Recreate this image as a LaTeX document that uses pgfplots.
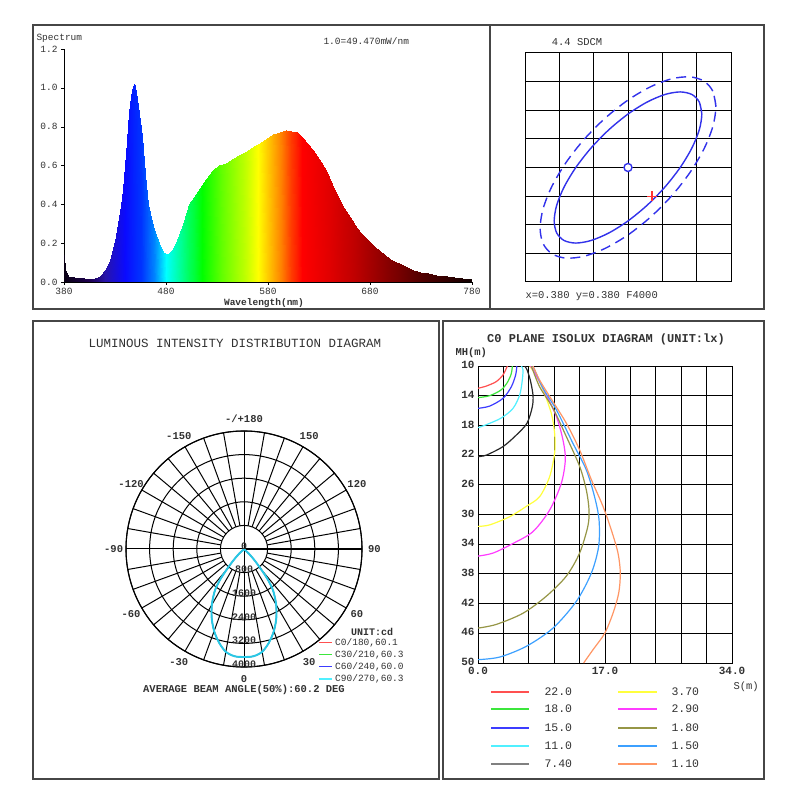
\documentclass[border=0pt]{standalone}
\usepackage{pgfplots}
\pgfplotsset{compat=1.18}
\usepgfplotslibrary{polar}
\usepackage{fontspec}
\setmainfont{Liberation Mono}
\definecolor{frame}{RGB}{70,70,70}
\definecolor{txt}{RGB}{50,50,50}
\definecolor{ired}{RGB}{255,80,80}
\definecolor{igreen}{RGB}{60,230,60}
\definecolor{iblue}{RGB}{60,60,255}
\definecolor{icyan}{RGB}{80,240,255}
\definecolor{iblack}{RGB}{40,40,40}
\definecolor{igray}{RGB}{128,128,128}
\definecolor{iyellow}{RGB}{255,255,60}
\definecolor{imag}{RGB}{255,60,255}
\definecolor{iolive}{RGB}{150,150,70}
\definecolor{ilblue}{RGB}{60,160,255}
\definecolor{iorange}{RGB}{255,150,100}
\definecolor{sdcm}{RGB}{50,50,235}
\definecolor{pcyan}{RGB}{40,200,230}
\pgfplotsset{colormap={wl}{[1pt]
rgb255(380pt)=(10,0,20) rgb255(405pt)=(30,0,80) rgb255(420pt)=(40,20,170)
rgb255(440pt)=(10,10,255) rgb255(455pt)=(0,50,255) rgb255(468pt)=(0,130,255)
rgb255(480pt)=(0,255,255) rgb255(492pt)=(0,255,170) rgb255(503pt)=(0,255,90)
rgb255(515pt)=(0,255,0) rgb255(535pt)=(100,255,0) rgb255(555pt)=(180,255,0)
rgb255(570pt)=(255,255,0) rgb255(582pt)=(255,190,0) rgb255(593pt)=(255,130,0)
rgb255(603pt)=(255,60,0) rgb255(613pt)=(255,0,0) rgb255(640pt)=(225,0,0)
rgb255(665pt)=(190,0,0) rgb255(695pt)=(140,0,0) rgb255(725pt)=(90,0,0)
rgb255(755pt)=(50,0,0) rgb255(780pt)=(15,0,0)}}
\pgfplotstableread{
phi r
222 0
224 250
226 420
228 640
230 920
232 1300
235 1720
240 2180
245 2590
250 2960
255 3280
260 3540
265 3650
270 3660
275 3650
280 3540
285 3280
290 2960
295 2590
300 2180
305 1720
308 1300
310 920
312 640
314 420
316 250
318 0
}\polardata
\begin{document}
\begin{tikzpicture}
\fill[white] (0pt,0pt) rectangle (800pt,800pt);
\draw[frame, line width=1.4pt] (33pt,491pt) rectangle (764pt,775pt);
\draw[frame, line width=1.4pt] (490pt,491pt) -- (490pt,775pt);
\draw[frame, line width=1.4pt] (33pt,21pt) rectangle (439pt,479pt);
\draw[frame, line width=1.4pt] (443pt,21pt) rectangle (764pt,479pt);

% ---------------- Spectrum ----------------
\begin{axis}[at={(64pt,518pt)}, anchor=south west, scale only axis,
  width=408pt, height=233pt,
  xmin=380, xmax=780, ymin=0, ymax=1.2,
  axis x line*=bottom, axis y line*=left,
  axis line style={black, line width=0.9pt},
  xtick={380,480,580,680,780}, ytick={0,0.2,0.4,0.6,0.8,1.0,1.2},
  tick align=outside, major tick length=3pt, tick style={black},
  /pgf/number format/assume math mode=true,
  yticklabel style={/pgf/number format/.cd, fixed, fixed zerofill, precision=1},
  xticklabel style={/pgf/number format/.cd, 1000 sep={}},
  tick label style={font=\fontsize{9.5}{10}\selectfont, text=txt},
  colormap name=wl, point meta min=380, point meta max=780]
\addplot[surf, shader=interp, mesh/rows=2, point meta=x] coordinates {
(380,0) (381,0) (384,0) (390,0) (395,0) (400,0) (405,0) (410,0) (415,0) (420,0)
(425,0) (431,0) (436,0) (438,0) (441,0) (444,0) (446,0) (448,0) (449,0) (450,0)
(453,0) (456,0) (458,0) (460,0) (462,0) (465,0) (467,0) (470,0) (473,0) (477,0)
(480,0) (483,0) (486,0) (490,0) (494,0) (497,0) (500,0) (503,0) (507,0) (513,0)
(519,0) (526,0) (532,0) (539,0) (545,0) (552,0) (559,0) (566,0) (572,0) (579,0)
(585,0) (592,0) (598,0) (603,0) (608,0) (613,0) (618,0) (624,0) (630,0) (635,0)
(640,0) (645,0) (650,0) (655,0) (660,0) (665,0) (670,0) (675,0) (680,0) (685,0)
(690,0) (695,0) (700,0) (705,0) (710,0) (716,0) (722,0) (729,0) (737,0) (745,0)
(755,0) (762,0) (770,0) (780,0)
(380,0.14) (381,0.06) (384,0.03) (390,0.025) (395,0.02) (400,0.022) (405,0.018) (410,0.02) (415,0.03) (420,0.06)
(425,0.115) (431,0.235) (436,0.39) (438,0.48) (441,0.66) (444,0.87) (446,0.96) (448,1.01) (449,1.02) (450,1.01)
(453,0.905) (456,0.75) (458,0.62) (460,0.50) (462,0.40) (465,0.33) (467,0.29) (470,0.24) (473,0.20) (477,0.155)
(480,0.145) (483,0.148) (486,0.165) (490,0.20) (494,0.255) (497,0.30) (500,0.35) (503,0.40) (507,0.44) (513,0.485)
(519,0.53) (526,0.575) (532,0.60) (539,0.615) (545,0.635) (552,0.655) (559,0.675) (566,0.70) (572,0.715) (579,0.74)
(585,0.76) (592,0.775) (598,0.785) (603,0.78) (608,0.77) (613,0.745) (618,0.715) (624,0.68) (630,0.635) (635,0.59)
(640,0.54) (645,0.48) (650,0.43) (655,0.38) (660,0.335) (665,0.295) (670,0.26) (675,0.23) (680,0.205) (685,0.18)
(690,0.16) (695,0.14) (700,0.12) (705,0.105) (710,0.092) (716,0.075) (722,0.062) (729,0.052) (737,0.044) (745,0.038)
(755,0.031) (762,0.027) (770,0.022) (780,0.017)
};
\end{axis}
\node[anchor=west, font=\fontsize{9.5}{10}\selectfont, text=txt] at (33pt,762pt) {Spectrum};
\node[anchor=west, font=\fontsize{9.5}{10}\selectfont, text=txt] at (320pt,759pt) {1.0=49.470mW/nm};
\node[font=\bfseries\fontsize{9.5}{10}\selectfont, text=txt] at (264pt,497pt) {Wavelength(nm)};

% ---------------- SDCM ----------------
\begin{axis}[at={(525pt,518pt)}, anchor=south west, scale only axis,
  width=206pt, height=229pt,
  xmin=0, xmax=6, ymin=0, ymax=8, xtick={0,...,6}, ytick={0,...,8},
  grid=major, major grid style={black, line width=1pt},
  xticklabels={}, yticklabels={}, major tick length=0pt,
  axis line style={black, line width=1pt}, clip=false]
\addplot[sdcm, line width=1.4pt, dash pattern=on 10pt off 6pt, smooth] coordinates {
(5.560,6.121) (5.473,6.659) (5.217,7.015) (4.810,7.166) (4.280,7.101) (3.663,6.824)
(3.000,6.356) (2.337,5.726) (1.720,4.980) (1.190,4.166) (0.783,3.341) (0.527,2.561)
(0.440,1.879) (0.527,1.341) (0.783,0.985) (1.190,0.834) (1.720,0.899) (2.337,1.176)
(3.000,1.644) (3.663,2.274) (4.280,3.020) (4.810,3.834) (5.217,4.659) (5.473,5.439)
(5.560,6.121) (5.473,6.659)};
\addplot[sdcm, line width=1.4pt, smooth] coordinates {
(5.150,5.867) (5.077,6.286) (4.862,6.550) (4.520,6.640) (4.075,6.550) (3.556,6.286)
(3.000,5.867) (2.444,5.320) (1.925,4.683) (1.480,4.000) (1.138,3.317) (0.923,2.680)
(0.850,2.133) (0.923,1.714) (1.138,1.450) (1.480,1.360) (1.925,1.450) (2.444,1.714)
(3.000,2.133) (3.556,2.680) (4.075,3.317) (4.520,4.000) (4.862,4.683) (5.077,5.320)
(5.150,5.867) (5.077,6.286)};
\addplot[only marks, mark=*, mark size=4pt, mark options={draw=sdcm, fill=white, line width=1.4pt}] coordinates {(3,4)};
\addplot[only marks, mark=+, mark size=5pt, mark options={draw=red!80, line width=1.1pt}] coordinates {(3.7,3.0)};
\end{axis}
\node[font=\fontsize{10.5}{11}\selectfont, text=txt] at (577pt,758pt) {4.4 SDCM};
\node[anchor=west, font=\fontsize{10.5}{11}\selectfont, text=txt] at (522pt,504pt) {x=0.380 y=0.380 F4000};

% ---------------- Polar ----------------
\node[font=\fontsize{12.5}{13}\selectfont, text=txt] at (235pt,457pt) {LUMINOUS INTENSITY DISTRIBUTION DIAGRAM};
\begin{polaraxis}[at={(244pt,251pt)}, anchor=center, scale only axis,
  width=236pt, height=236pt, xmin=0, xmax=360, ymin=0, ymax=4000,
  xtick=\empty, ytick={800,1600,2400,3200,4000}, yticklabels={},
  ymajorgrids, major grid style={black, line width=1pt}, major tick length=0pt,
  axis line style={black, line width=1.1pt}, clip=false]
\pgfplotsinvokeforeach{10,20,30,40,50,60,70,80,100,110,120,130,140,150,160,170,190,200,210,220,230,240,250,260,280,290,300,310,320,330,340,350}{\draw[black, line width=1pt] (axis cs:#1,800) -- (axis cs:#1,4000);}
\draw[black, line width=1pt] (axis cs:0,4000) -- (axis cs:180,4000);
\draw[black, line width=1pt] (axis cs:90,4000) -- (axis cs:270,4000);
\addplot[ired, line width=1pt, smooth] table[x=phi, y=r] {\polardata};
\addplot[igreen, line width=1pt, smooth] table[x=phi, y=r] {\polardata};
\addplot[iblue, line width=1pt, smooth] table[x=phi, y=r] {\polardata};
\addplot[pcyan, line width=1.9pt, smooth] table[x=phi, y=r] {\polardata};
\foreach \a/\l in {270/0,300/30,330/60,0/90,30/120,60/150,90/{-/+180},120/-150,150/-120,180/-90,210/-60,240/-30}{
  \edef\temp{\noexpand\node[font=\noexpand\bfseries\noexpand\fontsize{10.5}{11}\noexpand\selectfont, text=txt] at (axis cs:\a,4420) {\l};}\temp}
\foreach \r/\l in {0/0,800/800,1600/1600,2400/2400,3200/3200,4000/4000}{
  \edef\temp{\noexpand\node[font=\noexpand\bfseries\noexpand\fontsize{10}{11}\noexpand\selectfont, text=txt, yshift=3pt] at (axis cs:270,\r) {\l};}\temp}
\end{polaraxis}
\node[font=\bfseries\fontsize{10}{11}\selectfont, text=txt] at (372pt,168pt) {UNIT:cd};
\draw[ired, line width=1pt] (319pt,157pt) -- (332pt,157pt);
\draw[igreen, line width=1pt] (319pt,145pt) -- (332pt,145pt);
\draw[iblue, line width=1pt] (319pt,133pt) -- (332pt,133pt);
\draw[icyan, line width=1.5pt] (319pt,121pt) -- (332pt,121pt);
\node[anchor=west, font=\fontsize{9.5}{10}\selectfont, text=txt, inner sep=0pt] at (335pt,157pt) {C0/180,60.1};
\node[anchor=west, font=\fontsize{9.5}{10}\selectfont, text=txt, inner sep=0pt] at (335pt,145pt) {C30/210,60.3};
\node[anchor=west, font=\fontsize{9.5}{10}\selectfont, text=txt, inner sep=0pt] at (335pt,133pt) {C60/240,60.0};
\node[anchor=west, font=\fontsize{9.5}{10}\selectfont, text=txt, inner sep=0pt] at (335pt,121pt) {C90/270,60.3};
\node[font=\bfseries\fontsize{10.5}{11}\selectfont, text=txt] at (244pt,110pt) {AVERAGE BEAM ANGLE(50\%):60.2 DEG};

% ---------------- Isolux ----------------
\node[font=\bfseries\fontsize{12}{13}\selectfont, text=txt] at (606pt,461pt) {C0 PLANE ISOLUX DIAGRAM (UNIT:lx)};
\node[anchor=west, font=\bfseries\fontsize{10.5}{11}\selectfont, text=txt] at (452pt,447pt) {MH(m)};
\begin{axis}[at={(478pt,137pt)}, anchor=south west, scale only axis,
  width=254pt, height=297pt,
  xmin=0, xmax=34, ymin=10, ymax=50, y dir=reverse,
  xtick={0,3.4,6.8,10.2,13.6,17,20.4,23.8,27.2,30.6,34},
  xticklabels={0.0,,,,,17.0,,,,,34.0},
  ytick={10,14,18,22,26,30,34,38,42,46,50},
  grid=major, major grid style={black, line width=1pt}, major tick length=0pt,
  axis line style={black, line width=1pt},
  /pgf/number format/assume math mode=true,
  tick label style={font=\bfseries\fontsize{11}{12}\selectfont, text=txt},
  xticklabel style={yshift=-1pt}, yticklabel style={yshift=1pt}]
\addplot[ired, line width=1.2pt, smooth] coordinates {(0,13.0) (1.12,12.7) (2.45,12.1) (3.35,11.2) (3.8,10.3) (3.93,10)};
\addplot[igreen, line width=1.2pt, smooth] coordinates {(0,14.26) (1.56,14.0) (3.12,13.2) (4.0,12.1) (4.46,11.0) (4.6,10)};
\addplot[iblue, line width=1.2pt, smooth] coordinates {(0,15.7) (1.56,15.4) (3.35,14.35) (4.46,12.8) (5.04,11.2) (5.2,10)};
\addplot[icyan, line width=1.2pt, smooth] coordinates {(0,18.3) (1.12,17.9) (3.12,17.0) (4.69,15.7) (5.58,13.9) (5.93,11.9) (6.02,10.5) (5.8,10)};
\addplot[iblack, line width=1.2pt, smooth] coordinates {(0,22.2) (1.12,22.0) (3.35,20.85) (5.13,19.3) (6.56,17.7) (7.27,15.5) (7.36,13.9) (7.0,11.9) (6.56,10.5) (6.25,10)};
\addplot[iyellow, line width=1.2pt, smooth] coordinates {(0,31.6) (1.56,31.4) (4.24,30.3) (6.47,28.9) (8.25,27.6) (9.59,24.9) (10.26,21.7) (10.26,19.1) (9.82,16.4) (8.7,13.2) (7.59,11.0) (6.92,10)};
\addplot[imag, line width=1.2pt, smooth] coordinates {(0,35.6) (2.0,35.2) (4.69,33.9) (7.36,32.3) (9.59,29.4) (11.15,25.8) (11.69,22.6) (11.38,20.0) (10.49,16.8) (8.7,13.0) (7.36,10.5) (7.0,10)};
\addplot[iolive, line width=1.2pt, smooth] coordinates {(0,45.3) (2.45,44.8) (6.02,43.3) (9.15,41.0) (11.82,38.3) (13.6,35.2) (14.7,31.6) (14.86,29.4) (14.5,26.7) (13.6,23.5) (11.82,19.5) (10.04,15.7) (8.25,12.8) (7.14,10)};
\addplot[ilblue, line width=1.2pt, smooth] coordinates {(0,49.55) (2.9,49.2) (6.47,47.75) (10.04,45.3) (13.16,41.7) (15.17,37.9) (16.15,34.3) (16.2,30.7) (15.6,27.6) (14.5,24.0) (12.7,20.4) (10.49,15.9) (8.7,13.0) (7.36,10)};
\addplot[iorange, line width=1.2pt, smooth] coordinates {(14.14,50) (15.4,48.2) (16.96,46.0) (18.07,43.3) (18.83,40.6) (19.05,37.9) (18.74,35.2) (17.85,32.1) (16.73,28.9) (15.17,25.3) (13.6,21.3) (11.82,17.7) (9.59,14.1) (8.25,11.9) (7.36,10)};
\end{axis}
\node[anchor=west, font=\fontsize{10.5}{11}\selectfont, text=txt] at (730pt,113pt) {S(m)};
% legend
\foreach \c/\yy/\l in {ired/108/22.0, igreen/91/18.0, iblue/72/15.0, icyan/54/11.0, igray/36/7.40}{
  \draw[\c, line width=1.6pt] (491pt,\yy pt) -- (529pt,\yy pt);
  \node[anchor=west, font=\fontsize{11.5}{12}\selectfont, text=txt] at (541pt,\yy pt) {\l};}
\foreach \c/\yy/\l in {iyellow/108/3.70, imag/91/2.90, iolive/72/1.80, ilblue/54/1.50, iorange/36/1.10}{
  \draw[\c, line width=1.6pt] (618pt,\yy pt) -- (657pt,\yy pt);
  \node[anchor=west, font=\fontsize{11.5}{12}\selectfont, text=txt] at (668pt,\yy pt) {\l};}
\end{tikzpicture}
\end{document}
